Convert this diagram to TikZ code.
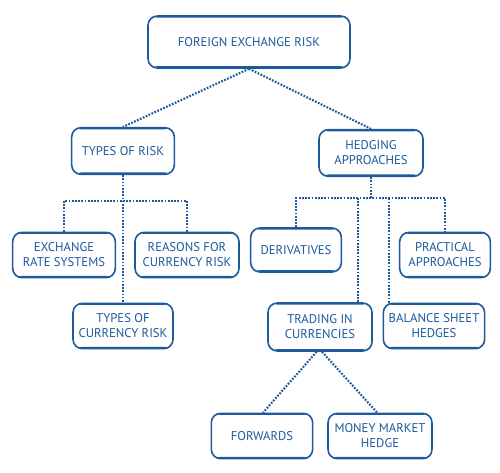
\documentclass[tikz,border=0pt]{standalone}
\usepackage{fontspec}
\setmainfont{PT Sans}
\definecolor{fxblue}{HTML}{1C5A9C}
\begin{document}
\begin{tikzpicture}[x=0.75pt, y=-0.75pt,
  box/.style={draw=fxblue, fill=white, line width=1.2pt, rounded corners=7pt,
    text=fxblue, font=\fontsize{9.5}{11.2}\selectfont, align=center,
    inner sep=0pt,
    path picture={
      \fill[fxblue] (path picture bounding box.north west) rectangle
        ([yshift=-1.2pt]path picture bounding box.north east);
      \fill[fxblue] (path picture bounding box.south west) rectangle
        ([yshift=1.4pt]path picture bounding box.south east);}},
  link/.style={fxblue, line width=1.6pt, dash pattern=on 1.3pt off 1.1pt}]
\useasboundingbox (0,0) rectangle (500,472);

% boxes
\node[box, minimum width=151.5pt, minimum height=39pt] (fx) at (249,42) {FOREIGN EXCHANGE RISK};
\node[box, minimum width=77pt, minimum height=35pt] (types) at (123,151) {TYPES OF RISK};
\node[box, minimum width=78pt, minimum height=35pt] (hedge) at (371,153) {HEDGING\\APPROACHES};

\node[box, minimum width=77pt, minimum height=34pt] (ers) at (64,255) {EXCHANGE\\RATE SYSTEMS};
\node[box, minimum width=78pt, minimum height=34pt] (reasons) at (187,255) {REASONS FOR\\CURRENCY RISK};
\node[box, minimum width=75pt, minimum height=34pt] (tcr) at (123,326) {TYPES OF\\CURRENCY RISK};

\node[box, minimum width=68pt, minimum height=33pt] (deriv) at (296,250) {DERIVATIVES};
\node[box, minimum width=68pt, minimum height=34pt] (pract) at (445,255) {PRACTICAL\\APPROACHES};
\node[box, minimum width=78pt, minimum height=36pt] (trading) at (320,327) {TRADING IN\\CURRENCIES};
\node[box, minimum width=76pt, minimum height=34pt] (bsh) at (434,326) {BALANCE SHEET\\HEDGES};

\node[box, minimum width=76pt, minimum height=34pt] (fwd) at (262,436) {FORWARDS};
\node[box, minimum width=78pt, minimum height=34pt] (mmh) at (380,436) {MONEY MARKET\\HEDGE};

% links
\draw[link] (fx.south) -- (types.north);
\draw[link] (fx.south) -- (hedge.north);

\coordinate (tbar) at (123,201);
\draw[link] (types.south) -- (tcr.north);
\draw[link] (ers.north) |- (tbar) -| (reasons.north);

\coordinate (hbar) at (371,198);
\draw[link] (hedge.south) -- (hbar);
\draw[link] (deriv.north) |- (hbar) -| (pract.north);
\draw[link] (trading.north -| 358,0) -- (358,198);
\draw[link] (bsh.north -| 389,0) -- (389,198);

\draw[link] ([xshift=-2.5pt]trading.south) -- ([xshift=0.8pt]fwd.north);
\draw[link] ([xshift=1.5pt]trading.south) -- ([xshift=-2.2pt]mmh.north);
\end{tikzpicture}
\end{document}
